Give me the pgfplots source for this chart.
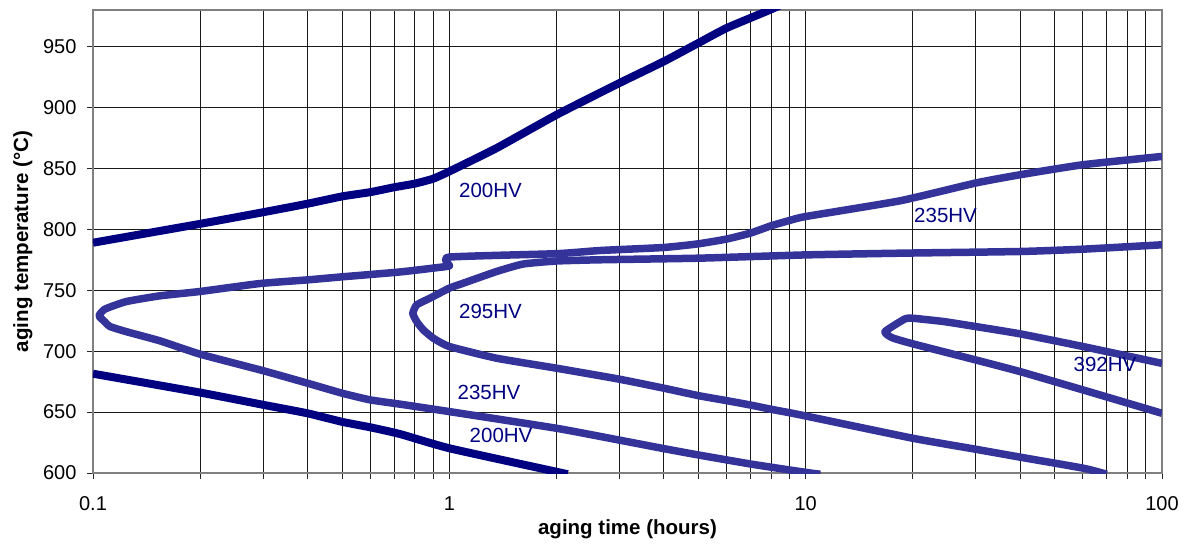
\documentclass[border=0pt]{standalone}
\usepackage{fontspec}
\setmainfont{Liberation Sans}
\usepackage{pgfplots}
\pgfplotsset{compat=1.18}
\definecolor{navyc}{RGB}{0,0,128}
\definecolor{bluec}{RGB}{51,51,153}
\begin{document}
\begin{tikzpicture}
\path[use as bounding box] (-93pt,-73pt) rectangle (1097pt,473pt);
\begin{axis}[
  at={(0pt,0pt)}, anchor=south west,
  scale only axis, width=1069pt, height=463pt,
  xmode=log, xmin=0.1, xmax=100, ymin=600, ymax=980,
  xtick={0.1,1,10,100}, xticklabels={0.1,1,10,100},
  minor xtick={0.2,0.3,0.4,0.5,0.6,0.7,0.8,0.9,2,3,4,5,6,7,8,9,20,30,40,50,60,70,80,90},
  ytick={600,650,700,750,800,850,900,950},
  /pgf/number format/assume math mode=true,
  tick pos=left, tick align=outside,
  major tick length=6pt, minor tick length=6pt,
  tick style={black!85, line width=0.9pt},
  xmajorgrids=true, xminorgrids=true, ymajorgrids=true,
  major grid style={black!90, line width=0.9pt},
  minor grid style={black!90, line width=0.9pt},
  axis line style={draw=gray, line width=2pt},
  tick label style={font=\fontsize{20}{24}\selectfont},
  xticklabel style={yshift=-14pt},
  yticklabel style={xshift=-7pt},
  xlabel={aging time (hours)},
  ylabel={aging temperature (°C)},
  label style={font=\fontsize{20.5}{24}\selectfont\bfseries},
  xlabel style={at={(axis description cs:0.5,-0.121)}, anchor=center},
  ylabel style={at={(axis description cs:-0.0655,0.5)}, anchor=center, rotate=0},
  clip=true,
]
% 200HV upper
\addplot[navyc, line width=8pt, line join=round, smooth, tension=0.3] coordinates {
(0.1,789) (0.2,804.5) (0.3,814) (0.4,821) (0.5,827) (0.6,830.5) (0.7,834.5)
(0.8,837.5) (0.9,841.5) (1.0,847.5) (1.358,866.7) (2,894) (3,920) (4,937.8)
(5,952.9) (6,965.2) (7.78,979) (8.5,984)};
% 200HV lower
\addplot[navyc, line width=8pt, line join=round, smooth, tension=0.3] coordinates {
(0.1,681.5) (0.2,666) (0.3,656) (0.4,649) (0.5,642) (0.6,637.5) (0.727,632)
(1.0,620.3) (2.0,601) (2.15,599)};
% 235HV
\addplot[bluec, line width=7.5pt, line join=round, smooth, tension=0.3] coordinates {
(100,859.8) (60,853) (40,844.8) (30,838) (18.4,823.4) (10,810.5) (9,807.2)
(8,802.9) (7,796.9) (6,792) (5,788.1) (4,785.1) (2.65,782.6) (2,780)
(1.0,777.2) (1.0,770.5) (0.983,769.5) (0.727,765) (0.5,761) (0.4,758.5)
(0.294,755.5) (0.2,749) (0.154,745.4) (0.124,740.7) (0.108,734.5) (0.104,729)
(0.108,724) (0.1116,720.2) (0.124,716) (0.154,708.5) (0.2,697.5) (0.3,684)
(0.4,673.7) (0.5,665.5) (0.6,660) (0.727,656.5) (1.0,650.4) (2.0,636.7)
(3,627) (4,620) (5,614.8) (7,607.4) (9,602.5) (10.6,599.5) (11,599)};
% 295HV
\addplot[bluec, line width=7.5pt, line join=round, smooth, tension=0.3] coordinates {
(100,787.3) (60,783.7) (40,781.8) (18.4,780.4) (10,779) (5,776.3) (2.65,775)
(2,774) (1.61,771.5) (1.358,765.4) (1.095,755.8) (1.0,751.7) (0.883,743.5)
(0.81,738) (0.79,731) (0.81,724.3) (0.845,717.5) (0.902,710.6) (1.0,703.8)
(1.358,694.2) (2,686) (3,677) (4,669.6) (5,663.5) (6,659.4) (7,655.8) (8,652.3)
(9,649.5) (10,646.8) (20,628.5) (30,619.5) (40,613) (60,604) (68,600) (70,599)};
% 392HV
\addplot[bluec, line width=7.5pt, line join=round, smooth, tension=0.3] coordinates {
(100,690) (60,703.8) (40,714.2) (30,720.2) (24.4,724.3) (20,727) (19.0,726.5)
(16.7,716) (17.5,711) (20,706) (30,692.8) (40,683.2) (60,668.2) (100,649)};
\node[font=\fontsize{20.5}{24}\selectfont, text=navyc] at (axis cs:1.305,832) {200HV};
\node[font=\fontsize{20.5}{24}\selectfont, text=navyc] at (axis cs:1.305,732.6) {295HV};
\node[font=\fontsize{20.5}{24}\selectfont, text=navyc] at (axis cs:1.292,666.1) {235HV};
\node[font=\fontsize{20.5}{24}\selectfont, text=navyc] at (axis cs:1.397,631.2) {200HV};
\node[font=\fontsize{20.5}{24}\selectfont, text=navyc] at (axis cs:24.7,811.5) {235HV};
\node[font=\fontsize{20.5}{24}\selectfont, text=navyc] at (axis cs:69.2,689.1) {392HV};
\end{axis}
\end{tikzpicture}
\end{document}
